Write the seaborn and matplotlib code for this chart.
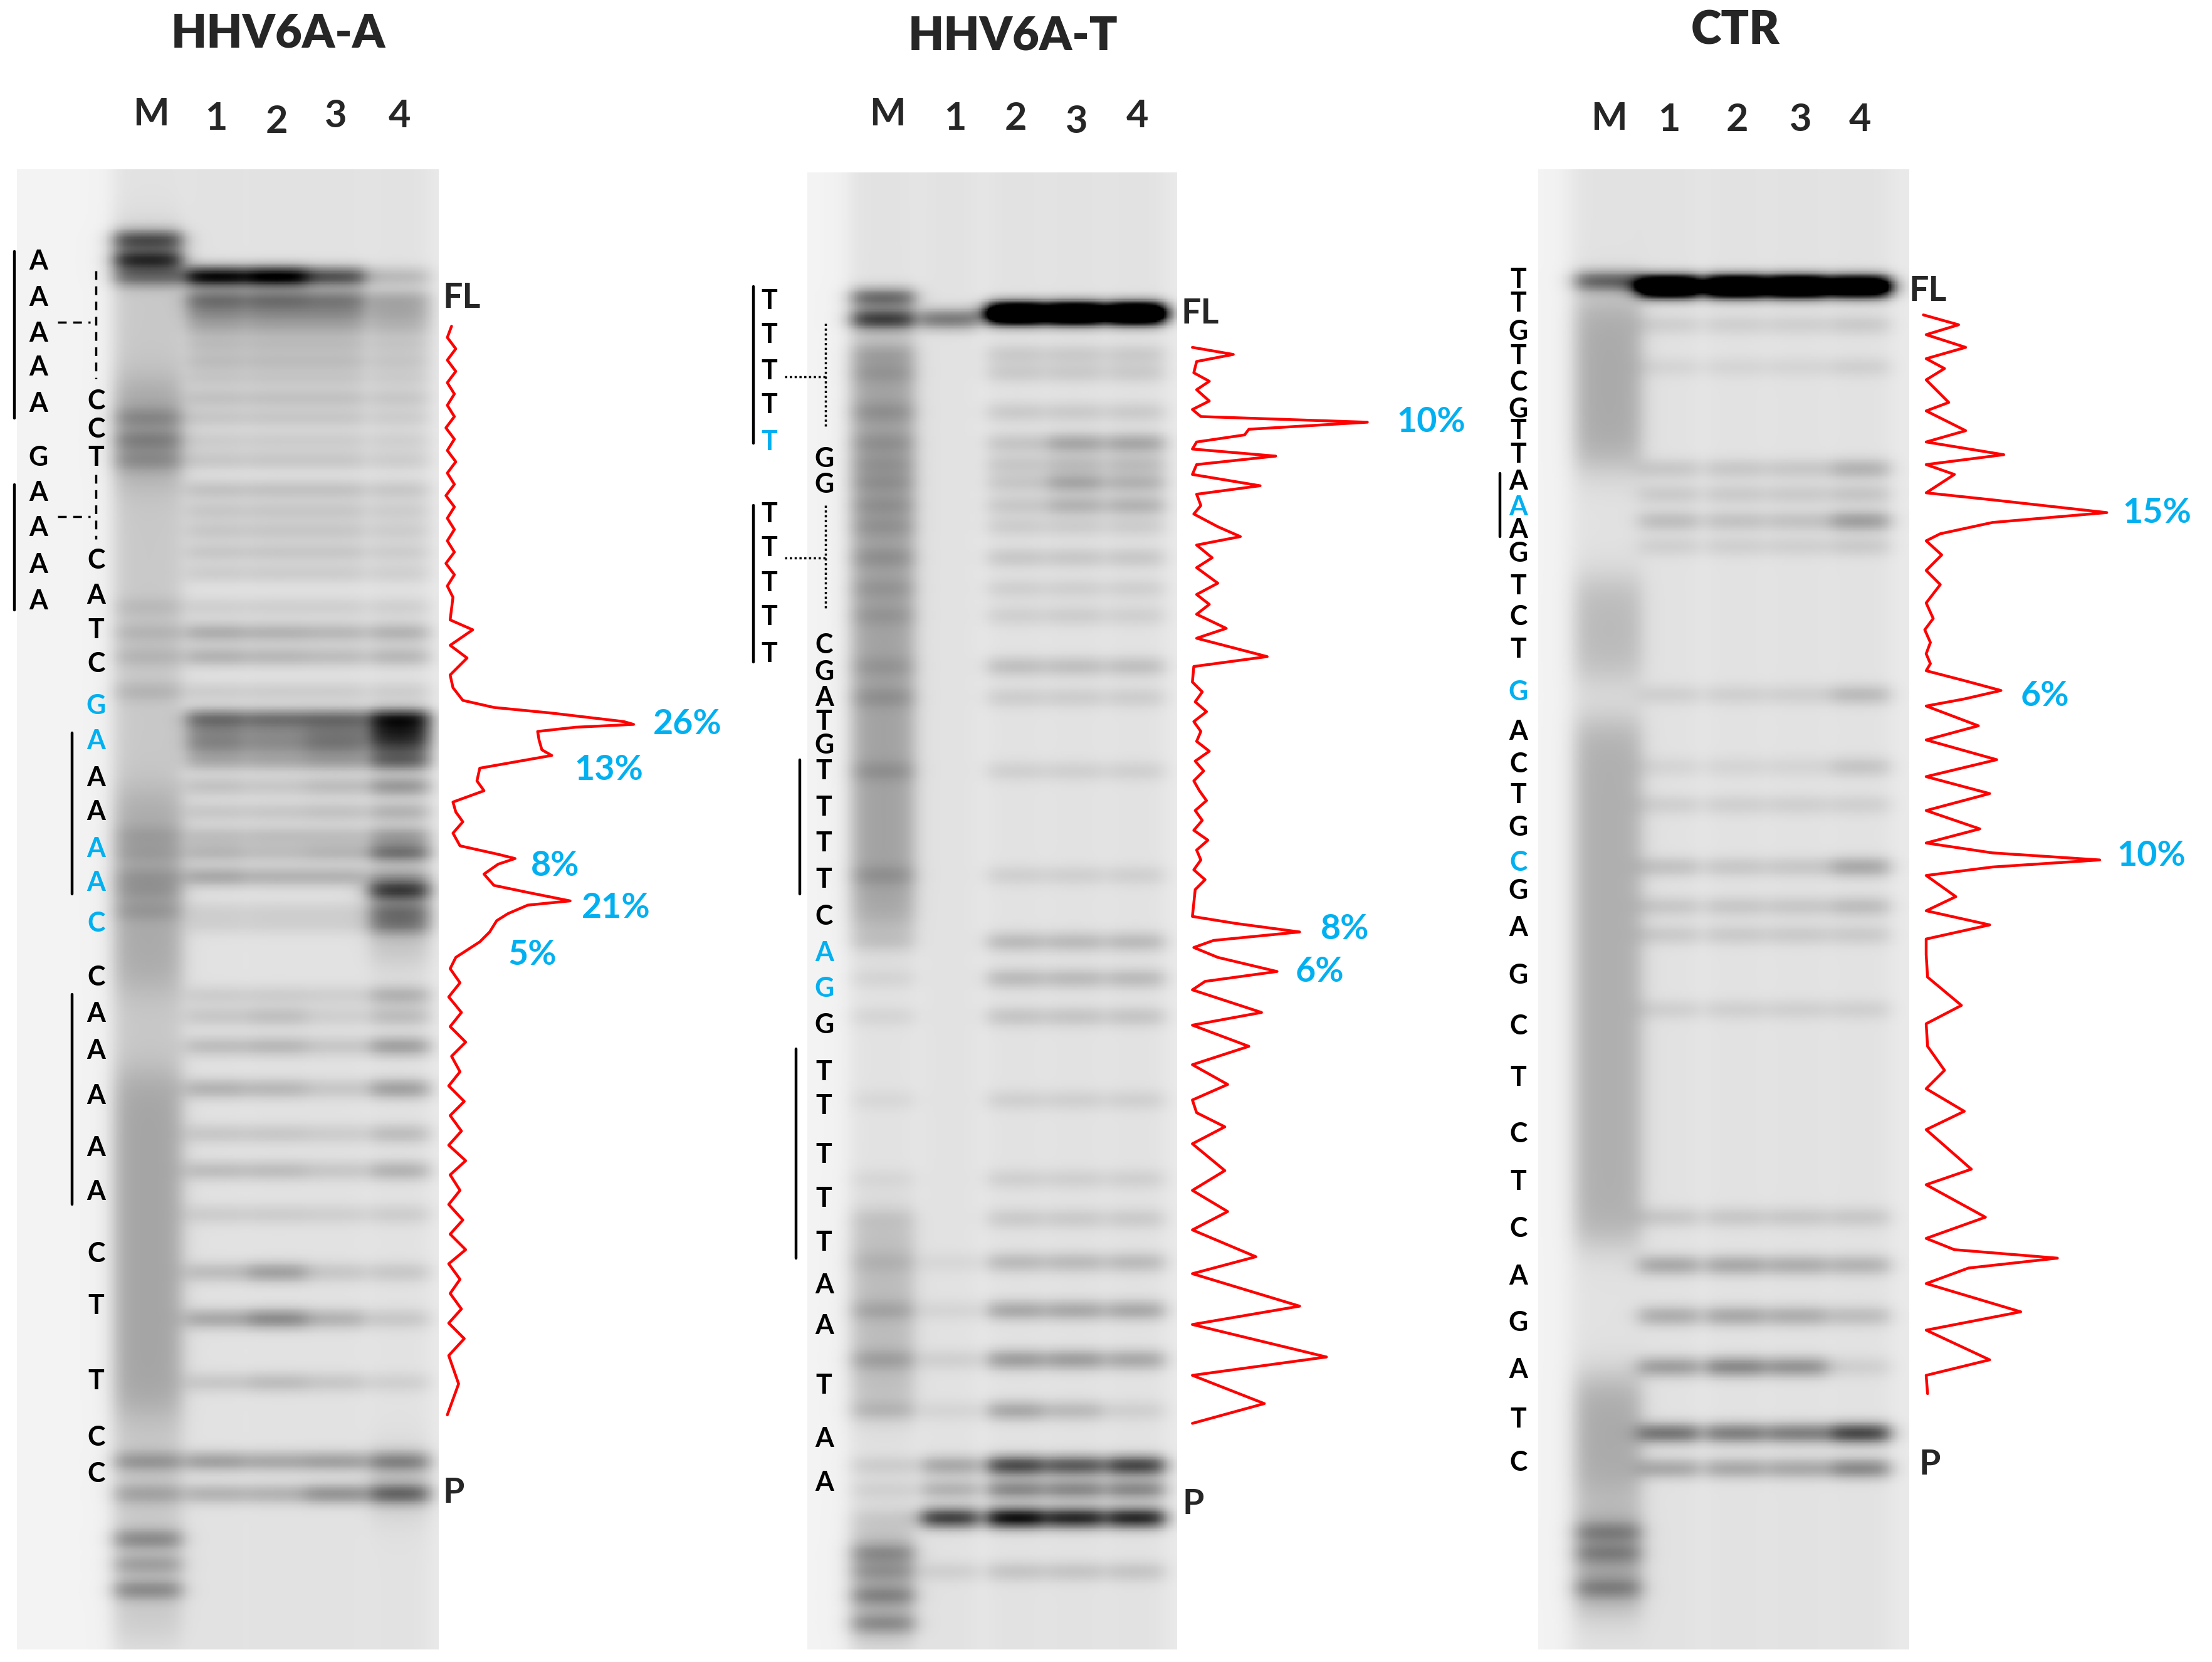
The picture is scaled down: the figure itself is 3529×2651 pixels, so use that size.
import numpy as np
import matplotlib
matplotlib.use("Agg")
import matplotlib.pyplot as plt
import seaborn as sns

# ------------------------------------------------------------------ data
TITLES = ["HHV6A-A", "HHV6A-T", "CTR"]
LANE_LABELS = ["M", "1", "2", "3", "4"]

# gel bands: (position, intensity in lanes M,1,2,3,4)
P1_BANDS = [
    (170, .5, 0, 0, 0, 0), (184, .6, 0, 0, 0, 0), (196, .35, .85, .9, .55, .15),
    (212, 0, .4, .4, .36, .2), (222, 0, .26, .26, .26, .18), (232, 0, .18, .18, .18, .14),
    (244, 0, .13, .13, .13, .1), (256, 0, .13, .13, .13, .1), (268, 0, .1, .1, .1, .08),
    (282, 0, .12, .12, .12, .1), (296, .12, .1, .1, .1, .08), (312, .15, .08, .08, .08, .07),
    (326, .12, .1, .1, .1, .08), (347, 0, .12, .12, .12, .1), (362, 0, .1, .1, .1, .08),
    (376, 0, .1, .1, .1, .08), (391, 0, .1, .1, .1, .08), (406, 0, .08, .08, .08, .07),
    (430, .06, .07, .07, .07, .07), (448, .08, .2, .18, .16, .18), (465, .08, .18, .16, .14, .16),
    (490, .08, .08, .08, .08, .08), (509, 0, .42, .4, .42, .72), (519, 0, .24, .22, .28, .55),
    (528, 0, .28, .25, .32, .45), (539, 0, .2, .2, .24, .45), (557, 0, .12, .1, .14, .28),
    (575, 0, .1, .1, .12, .18), (592, .06, .13, .13, .13, .25), (604, .06, .16, .13, .16, .42),
    (621, .08, .22, .18, .18, .22), (631, .08, 0, 0, 0, .58), (645, .08, .06, .06, .06, .3),
    (655, 0, .06, .06, .06, .26), (705, 0, .08, .08, .07, .18), (720, 0, .1, .13, .07, .14),
    (741, 0, .14, .16, .1, .25), (771, 0, .18, .16, .1, .25), (803, 0, .1, .1, .08, .14),
    (829, 0, .14, .14, .1, .18), (860, 0, .08, .08, .07, .08), (901, 0, .14, .25, .1, .1),
    (934, 0, .22, .33, .18, .1), (979, 0, .1, .14, .1, .07), (1035, .2, .25, .22, .25, .3),
    (1058, .15, .18, .18, .3, .4), (1090, .24, 0, 0, 0, 0), (1108, .16, 0, 0, 0, 0),
    (1126, .24, 0, 0, 0, 0),
]
P1_SMEAR = [(0, 160, 1160, .1), (0, 270, 340, .15), (0, 560, 700, .12), (0, 760, 1000, .14),
            (4, 640, 680, .15), (4, 1030, 1070, .12)]

P2_BANDS = [
    (211, .45, 0, 0, 0, 0), (226, .6, .4, 0, 0, 0), (222, 0, 0, 1.8, 1.8, 1.8),
    (251, .07, 0, .09, .09, .09), (264, .07, 0, .09, .09, .09), (292, .08, 0, .09, .09, .09),
    (314, .08, 0, .11, .23, .23), (329, .07, 0, .1, .14, .14), (342, .08, 0, .1, .23, .18),
    (358, .08, 0, .1, .18, .18), (373, .07, 0, .08, .08, .08), (395, .08, 0, .1, .1, .1),
    (417, .06, 0, .07, .07, .07), (436, .06, 0, .07, .08, .07), (472, .06, 0, .13, .13, .13),
    (494, .08, 0, .08, .08, .08), (546, .08, 0, .07, .07, .07), (620, .08, 0, .07, .07, .07),
    (667, .06, 0, .15, .15, .15), (693, .05, 0, .15, .15, .15), (720, .05, 0, .11, .11, .11),
    (779, .04, 0, .07, .07, .07), (835, .04, 0, .07, .07, .07), (863, .04, 0, .09, .09, .09),
    (894, .05, .04, .15, .15, .15), (928, .1, .05, .22, .22, .22), (963, .12, .07, .26, .26, .22),
    (999, .1, .05, .22, .15, .07), (1038, .08, .22, .58, .52, .6), (1055, .06, .18, .34, .34, .34),
    (1075, .04, .62, .82, .72, .72), (1100, .18, 0, 0, 0, 0), (1113, .14, .07, .11, .11, .11),
    (1130, .2, 0, 0, 0, 0), (1150, .2, 0, 0, 0, 0),
]
P2_SMEAR = [(0, 240, 660, .25), (0, 860, 1000, .15), (0, 1080, 1160, .18)]

P3_BANDS = [
    (199, .45, 0, 0, 0, 0), (203, 0, 1.8, 1.8, 1.8, 1.6), (230, 0, .07, .07, .07, .09),
    (260, 0, .05, .05, .05, .07), (332, 0, .1, .1, .1, .18), (350, 0, .09, .09, .09, .11),
    (369, 0, .14, .12, .12, .26), (387, 0, .07, .07, .07, .09), (492, 0, .07, .07, .07, .15),
    (543, 0, .05, .05, .05, .11), (570, 0, .07, .07, .07, .07), (614, 0, .12, .1, .1, .22),
    (642, 0, .1, .1, .1, .14), (662, 0, .09, .09, .09, .09), (715, 0, .07, .07, .07, .07),
    (862, 0, .1, .1, .1, .1), (896, 0, .22, .22, .2, .18), (932, 0, .2, .22, .2, .14),
    (968, 0, .26, .34, .3, .07), (1015, 0, .42, .38, .38, .6), (1040, 0, .22, .22, .22, .34),
    (1085, .18, 0, 0, 0, 0), (1100, .16, 0, 0, 0, 0), (1125, .18, 0, 0, 0, 0),
]
P3_SMEAR = [(0, 210, 330, .22), (0, 410, 480, .16), (0, 510, 880, .2), (0, 975, 1060, .22),
            (0, 1070, 1140, .25)]

# densitometry traces (profile value x, gel position y)
P1_TRACE_X = [320, 317, 323, 317, 323, 317, 322, 317, 322, 316, 322, 317, 323, 317, 322, 316,
              322, 317, 322, 317, 322, 316, 322, 317, 321, 319, 335, 319, 331, 319, 321, 328,
              350, 391, 442, 449, 408, 381, 382, 384, 391, 374, 340, 338, 343, 321, 323, 328,
              321, 326, 353, 365, 353, 343, 350, 374, 404, 374, 360, 352, 347, 340, 323, 319,
              326, 318, 327, 319, 330, 320, 326, 318, 329, 319, 327, 318, 330, 319, 326, 318,
              328, 319, 330, 318, 326, 319, 327, 318, 329, 318, 325, 317]
P1_TRACE_Y = [231, 239, 247, 255, 263, 271, 279, 287, 295, 303, 311, 319, 327, 335, 343, 351,
              359, 367, 375, 383, 391, 399, 407, 415, 423, 439, 446, 457, 466, 478, 487, 496,
              501, 505, 511, 513, 515, 518, 524, 531, 535, 538, 544, 553, 560, 568, 575, 582,
              590, 599, 605, 608, 612, 619, 627, 632, 638, 641, 647, 652, 660, 667, 678, 686,
              696, 706, 717, 727, 738, 748, 759, 769, 780, 790, 801, 811, 822, 832, 843, 853,
              864, 874, 885, 895, 906, 916, 927, 937, 948, 960, 980, 1002]

P2_TRACE_X = [845, 874, 848, 846, 857, 848, 857, 845, 851, 969, 885, 882, 848, 845, 904, 848,
              845, 893, 848, 851, 846, 863, 879, 848, 859, 848, 863, 848, 857, 848, 869, 848,
              898, 846, 845, 852, 847, 855, 846, 851, 848, 857, 847, 853, 846, 850, 855, 847,
              852, 846, 856, 848, 851, 846, 854, 847, 845, 876, 921, 860, 846, 863, 905, 854,
              845, 894, 845, 885, 845, 870, 845, 848, 868, 845, 868, 845, 870, 845, 890, 845,
              921, 845, 940, 845, 896, 845]
P2_TRACE_Y = [246, 251, 256, 264, 270, 276, 284, 290, 295, 299, 304, 308, 313, 318, 323, 329,
              336, 344, 350, 358, 364, 373, 380, 386, 395, 402, 413, 421, 428, 435, 445, 452,
              465, 472, 483, 490, 497, 504, 511, 518, 525, 532, 539, 546, 553, 560, 567, 574,
              581, 588, 595, 602, 609, 616, 623, 630, 649, 654, 660, 666, 671, 678, 688, 695,
              701, 717, 726, 741, 754, 768, 779, 788, 798, 810, 829, 843, 858, 871, 890, 902,
              925, 938, 961, 974, 994, 1008]

P3_TRACE_X = [1363, 1388, 1365, 1393, 1365, 1378, 1365, 1381, 1365, 1393, 1365, 1420, 1365, 1385,
              1365, 1412, 1493, 1412, 1375, 1365, 1376, 1365, 1375, 1365, 1370, 1364, 1368, 1365,
              1368, 1365, 1392, 1418, 1392, 1365, 1402, 1365, 1415, 1365, 1410, 1365, 1403, 1365,
              1412, 1488, 1412, 1365, 1386, 1365, 1410, 1365, 1365, 1366, 1390, 1365, 1366, 1378,
              1365, 1392, 1365, 1397, 1365, 1407, 1365, 1385, 1458, 1395, 1365, 1432, 1365, 1410,
              1365, 1366]
P3_TRACE_Y = [223, 230, 237, 246, 254, 261, 269, 285, 291, 305, 313, 322, 329, 336,
              349, 354, 363, 370, 378, 383, 393, 404, 414, 427, 438, 446, 455, 463,
              470, 475, 482, 489, 495, 500, 514, 524, 538, 550, 562, 574, 587, 597,
              604, 609, 614, 620, 635, 645, 655, 665, 676, 692, 712, 725, 741, 758,
              771, 787, 800, 828, 839, 862, 877, 885, 891, 898, 909, 929, 942, 963,
              974, 987]

PERCENTS = [["26%", "13%", "8%", "21%", "5%"], ["10%", "8%", "6%"], ["15%", "6%", "10%"]]

P1_SEQ_LEFT = list("AAAAAGAAAA")
P1_SEQ_RIGHT = list("CCTCATCGAAAAACCAAAAACTTCC")
P1_RIGHT_BLUE = [7, 8, 11, 12, 13]
P2_SEQ_LEFT = list("TTTTTTTTTT")
P2_LEFT_BLUE = [4]
P2_SEQ_RIGHT = list("GGCGATGTTTTCAGGTTTTTAATAA")
P2_RIGHT_BLUE = [12, 13]
P3_SEQ = list("TTGTCGTTAAAGTCTGACTGCGAGCTCTCAGATC")
P3_BLUE = [9, 15, 20]

# ------------------------------------------------------------------ layout (reference grid 1568 x 1177)
W, H = 1568.0, 1177.0
BLUE = "#00B0F0"
GELS = [
    dict(rect=(12, 120, 311, 1168), lanes=[105, 153, 196, 238, 283], widths=[48, 42, 42, 42, 42],
         bands=P1_BANDS, smear=P1_SMEAR, lane_left=80),
    dict(rect=(572, 122, 834, 1168), lanes=[626, 673, 720, 762, 805], widths=[44, 40, 40, 40, 40],
         bands=P2_BANDS, smear=P2_SMEAR, lane_left=600),
    dict(rect=(1090, 120, 1353, 1168), lanes=[1140, 1183, 1230, 1274, 1318], widths=[46, 42, 42, 42, 42],
         bands=P3_BANDS, smear=P3_SMEAR, lane_left=1110),
]

sns.set_theme(style="white")
plt.rcParams['font.family'] = ['Lato', 'DejaVu Sans']

fig = plt.figure(figsize=(35.30, 26.51), dpi=100)
fig.patch.set_facecolor("white")


def sig(v):
    return 1.0 / (1.0 + np.exp(-v))


for g in GELS:
    x0, y0, x1, y1 = g["rect"]
    xs = np.arange(x0, x1, 1.0) + 0.5
    ys = np.arange(y0, y1, 1.0) + 0.5
    img = np.full((len(ys), len(xs)), 0.05)
    img += 0.035 * sig((xs - g["lane_left"]) / 4.0)[None, :]
    profs = []
    for cx, w in zip(g["lanes"], g["widths"]):
        p = sig(-(np.abs(xs - cx) - w / 2.0) / 4.0)
        profs.append(p)
        img += 0.03 * p[None, :]
    for (li, a, b, lev) in g["smear"]:
        v = lev * sig((ys - a) / 8.0) * sig((b - ys) / 8.0)
        img += v[:, None] * profs[li][None, :]
    for row in g["bands"]:
        yb = row[0]
        prof_y = np.exp(-0.5 * ((ys - yb) / 5.4) ** 2)
        for li, inten in enumerate(row[1:]):
            if inten > 0:
                img += inten * prof_y[:, None] * profs[li][None, :]
    img = np.clip(img, 0, 1)
    gax = fig.add_axes([x0 / W, 1 - y1 / H, (x1 - x0) / W, (y1 - y0) / H])
    sns.heatmap(img, ax=gax, cmap="gray_r", vmin=0, vmax=1, cbar=False,
                xticklabels=False, yticklabels=False)
    gax.set_xticks([])
    gax.set_yticks([])
    for s in gax.spines.values():
        s.set_visible(False)

ax = fig.add_axes([0, 0, 1, 1])
ax.patch.set_alpha(0)

# traces
for tx, ty in [(P1_TRACE_X, P1_TRACE_Y), (P2_TRACE_X, P2_TRACE_Y), (P3_TRACE_X, P3_TRACE_Y)]:
    sns.lineplot(x=tx, y=ty, sort=False, estimator=None, color="#ff0000", linewidth=3.2, ax=ax)

ax.set_xlim(0, W)
ax.set_ylim(H, 0)
ax.axis("off")

# titles and lane labels
title_pos = [(197, 24), (718, 26), (1230, 22)]
for t, (x, y) in zip(TITLES, title_pos):
    ax.text(x, y, t, ha="center", va="center", fontsize=53, fontweight="heavy")
lane_label_pos = [
    [(107, 81), (153, 84), (196, 86), (238, 82), (283, 82)],
    [(629, 81), (677, 84), (720, 84), (763, 86), (806, 82)],
    [(1140, 84), (1183, 85), (1231, 85), (1276, 85), (1318, 85)],
]
for pos in lane_label_pos:
    for lab, (x, y) in zip(LANE_LABELS, pos):
        ax.text(x, y, lab, ha="center", va="center", fontsize=44, fontweight="bold")

# FL / P
for (x, y, s) in [(314, 211, "FL"), (314, 1057, "P"), (837, 222, "FL"), (838, 1065, "P"),
                  (1353, 206, "FL"), (1360, 1037, "P")]:
    ax.text(x, y, s, ha="left", va="center", fontsize=40, fontweight="bold")

# percentages
pct_pos = [[(463, 513), (407, 545), (376, 613), (412, 643), (360, 676)],
           [(990, 299), (936, 658), (918, 688)],
           [(1504, 363), (1432, 493), (1500, 606)]]
for labs, pos in zip(PERCENTS, pct_pos):
    for lab, (x, y) in zip(labs, pos):
        ax.text(x, y, lab, ha="left", va="center", fontsize=40, fontweight="bold", color=BLUE)


def seq(letters, xs, ys, blue):
    for i, (c, y) in enumerate(zip(letters, ys)):
        ax.text(xs, y, c, ha="center", va="center", fontsize=31, fontweight="bold",
                color=BLUE if i in blue else "black")


# panel 1 sequence
seq(P1_SEQ_LEFT, 27, [185, 211, 236, 260, 286, 324, 349, 374, 400, 426], [])
seq(P1_SEQ_RIGHT, 68, [284, 304, 324, 397, 422, 446, 470, 500, 525, 551, 575, 601, 625, 654,
                       692, 718, 744, 776, 813, 844, 888, 925, 978, 1018, 1044], P1_RIGHT_BLUE)
for (xx, ya, yb) in [(10, 178, 296), (10, 343, 432), (51, 519, 633), (51, 704, 853)]:
    ax.plot([xx, xx], [ya, yb], color="black", lw=3.2)
ax.plot([68, 68], [192, 268], color="black", lw=2.5, ls=(0, (4, 3)))
ax.plot([41, 64], [228, 228], color="black", lw=2.5, ls=(0, (4, 3)))
ax.plot([68, 68], [336, 382], color="black", lw=2.5, ls=(0, (4, 3)))
ax.plot([41, 64], [366, 366], color="black", lw=2.5, ls=(0, (4, 3)))

# panel 2 sequence
seq(P2_SEQ_LEFT, 545, [213, 237, 263, 287, 313, 364, 388, 413, 437, 463], P2_LEFT_BLUE)
seq(P2_SEQ_RIGHT, 584, [325, 343, 457, 476, 494, 511, 528, 546, 572, 597, 623, 649, 675, 700,
                        726, 759, 783, 818, 849, 880, 910, 939, 981, 1019, 1050], P2_RIGHT_BLUE)
for (xx, ya, yb) in [(534, 203, 314), (534, 358, 469), (567, 538, 633), (564, 743, 891)]:
    ax.plot([xx, xx], [ya, yb], color="black", lw=3.2)
ax.plot([585, 585], [229, 303], color="black", lw=2.5, ls=(0, (1, 1.2)))
ax.plot([556, 585], [267, 267], color="black", lw=2.5, ls=(0, (1, 1.2)))
ax.plot([585, 585], [358, 432], color="black", lw=2.5, ls=(0, (1, 1.2)))
ax.plot([556, 585], [395, 395], color="black", lw=2.5, ls=(0, (1, 1.2)))

# panel 3 sequence
seq(P3_SEQ, 1076, [198, 215, 235, 252, 271, 290, 305, 322, 341, 359, 375, 392, 415, 437, 460,
                   490, 518, 541, 563, 586, 611, 631, 657, 691, 727, 763, 803, 837, 870, 904,
                   937, 970, 1005, 1036], P3_BLUE)
ax.plot([1063, 1063], [335, 380], color="black", lw=3.2)

fig.savefig("out.png", dpi=100, facecolor="white")
